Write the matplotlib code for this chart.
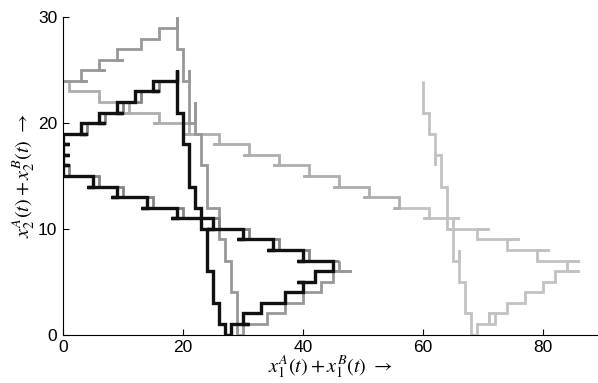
import matplotlib
matplotlib.use("Agg")
import matplotlib.pyplot as plt

# ---- data: trajectory pieces, in time order (light -> dark) ----
# cycle 1, lightest part
light1_x = [60, 60, 61, 61, 62, 62, 62, 63, 63, 64, 64, 65, 65, 66, 66, 66, 67, 67, 68, 68, 69, 69,
            72, 72, 71, 71, 71, 74, 74, 77, 77, 80, 80, 82, 82, 86, 84, 84, 86, 79, 79, 81, 74, 74,
            76, 69, 69, 71, 64, 65, 65, 66, 60, 61, 61, 55]
light1_y = [24, 21, 21, 19, 19, 16, 17, 17, 14, 14, 10, 10, 7, 7, 8, 5, 5, 2, 2, 0, 0, 1,
            1, 2, 2, 1, 2, 2, 3, 3, 4, 4, 5, 5, 6, 6, 6, 7, 7, 7, 8, 8, 8, 9,
            9, 9, 10, 10, 10, 10, 11, 11, 11, 11, 12, 12]
# cycle 1, second half
light2_x = [55, 56, 56, 50, 51, 51, 45, 46, 46, 40, 41, 41, 35, 36, 36, 30, 31, 31, 25, 26, 26,
            20, 21, 21, 15, 16, 16, 10, 11, 11, 6, 6, 1, 1, 0]
light2_y = [12, 12, 13, 13, 13, 14, 14, 14, 15, 15, 15, 16, 16, 16, 17, 17, 17, 18, 18, 18, 19,
            19, 19, 20, 20, 20, 21, 21, 21, 22, 22, 23, 23, 24, 24]
# cycle 2
mid1_x = [0, 4, 3, 3, 7, 6, 6, 10, 9, 9, 13, 13, 16, 16, 19, 19, 19, 20, 20, 21, 21, 21, 22, 22,
          22, 23, 23, 24, 24, 26, 26, 27, 27, 28, 28, 29, 29, 30, 30, 34, 34, 37, 37, 40, 40,
          43, 43, 45, 45, 48, 46, 46]
mid1_y = [24, 24, 24, 25, 25, 25, 26, 26, 26, 27, 27, 28, 28, 29, 29, 30, 27, 27, 24, 24, 25, 20,
          20, 22, 19, 19, 16, 16, 12, 12, 9, 9, 7, 7, 4, 4, 0, 0, 1, 1, 2, 2, 3, 3, 4,
          4, 5, 5, 6, 6, 6, 7]
mid2_x = [46, 41, 41, 36, 36, 31, 31, 26, 26, 20, 20, 15, 15, 10, 10, 6, 6, 1, 1, 0, 0,
          4, 4, 7, 7, 10, 10, 13, 13, 16, 16]
mid2_y = [7, 7, 8, 8, 9, 9, 10, 10, 11, 11, 12, 12, 13, 13, 14, 14, 15, 15, 16, 16, 19,
          19, 20, 20, 21, 21, 22, 22, 23, 23, 24]
# cycle 3 (black loop)
dark_x = [19, 19, 20, 20, 21, 21, 22, 22, 23, 23, 24, 24, 25, 25, 26, 26, 27, 27, 28, 28, 31,
          30, 30, 33, 33, 37, 37, 40, 40, 39, 42, 42, 45, 45, 39, 40, 40, 34, 35, 35, 29, 30,
          30, 24, 25, 25, 18, 19, 19, 13, 14, 14, 8, 9, 9, 4, 5, 5, 0, 0, 1, 0, 0, 1, 0,
          0, 1, 0, 0, 4, 3, 3, 7, 6, 6, 10, 9, 9, 12, 12, 16, 15, 15, 19, 19]
dark_y = [25, 21, 21, 18, 18, 14, 14, 12, 12, 10, 10, 6, 6, 3, 3, 1, 1, 0, 0, 1, 1,
          1, 2, 2, 3, 3, 4, 4, 5, 5, 5, 6, 6, 7, 7, 7, 8, 8, 8, 9, 9, 9,
          10, 10, 10, 11, 11, 11, 12, 12, 12, 13, 13, 13, 14, 14, 14, 15, 15, 16, 16, 16, 17, 17, 17,
          18, 18, 18, 19, 19, 19, 20, 20, 20, 21, 21, 21, 22, 22, 23, 23, 23, 24, 24, 25]

pieces = [(light1_x, light1_y, "#c2c2c2", 2.0),
          (light2_x, light2_y, "#aeaeae", 2.0),
          (mid1_x, mid1_y, "#989898", 2.0),
          (mid2_x, mid2_y, "#858585", 2.0),
          (dark_x, dark_y, "#111111", 2.4)]

x_ticks = [0, 20, 40, 60, 80]
y_ticks = [0, 10, 20, 30]

plt.rcParams["mathtext.fontset"] = "stix"
plt.rcParams["font.family"] = ["Liberation Sans", "DejaVu Sans"]

fig = plt.figure(figsize=(5.98, 3.83), dpi=100)
ax = fig.add_axes([0.1054, 0.1266, 0.893, 0.828])

for xs, ys, col, lw in pieces:
    ax.plot(xs, ys, color=col, lw=lw, solid_joinstyle="miter", solid_capstyle="butt")

ax.set_xlim(0, 89)
ax.set_ylim(0, 30)
ax.set_xticks(x_ticks)
ax.set_yticks(y_ticks)
ax.tick_params(direction="in", length=4, width=0.8, labelsize=12.5, pad=4)
for s in ["top", "right"]:
    ax.spines[s].set_visible(False)
for s in ["left", "bottom"]:
    ax.spines[s].set_linewidth(0.8)

ax.set_xlabel(r"$x_1^A(t)+x_1^B(t)\ \rightarrow$", fontsize=14.5, labelpad=-1)
ax.set_ylabel(r"$x_2^A(t)+x_2^B(t)\ \rightarrow$", fontsize=14.5, labelpad=1)

fig.savefig("out.png", dpi=100)
